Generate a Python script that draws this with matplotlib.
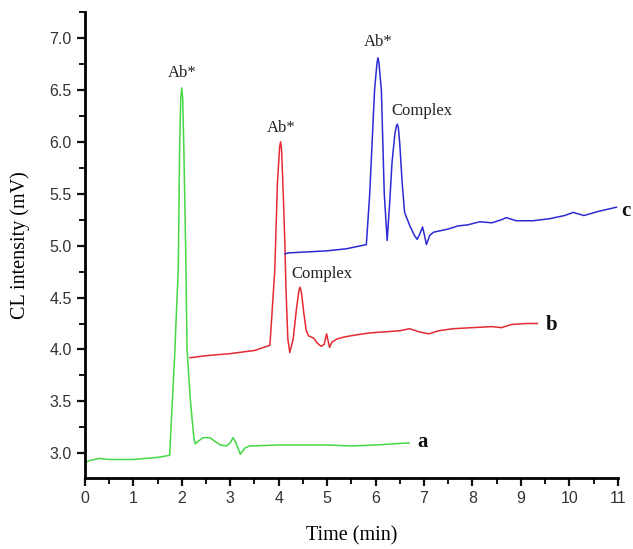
import matplotlib
matplotlib.use("Agg")
import matplotlib.pyplot as plt
from matplotlib.ticker import MultipleLocator, FormatStrFormatter

# curve a (green)
t_a = [0, 0.1, 0.3, 0.5, 1.0, 1.5, 1.75, 1.85, 1.93, 1.955, 1.98, 2.0, 2.02, 2.045,
       2.08, 2.11, 2.18, 2.25, 2.28, 2.35, 2.44, 2.58, 2.7, 2.8, 2.92, 3.0, 3.06,
       3.12, 3.21, 3.3, 3.4, 4.0, 5.0, 5.5, 6.0, 6.69]
y_a = [2.91, 2.93, 2.95, 2.94, 2.94, 2.96, 2.98, 3.9, 4.8, 5.9, 6.42, 6.52, 6.42, 5.9,
       5.0, 4.0, 3.5, 3.15, 3.09, 3.12, 3.15, 3.15, 3.11, 3.08, 3.07, 3.1, 3.15,
       3.1, 2.99, 3.05, 3.07, 3.08, 3.08, 3.07, 3.08, 3.10]

# curve b (red)
t_b = [2.17, 2.5, 3.0, 3.5, 3.82, 3.92, 3.975, 4.02, 4.04, 4.06, 4.095, 4.13, 4.15,
       4.19, 4.23, 4.3, 4.37, 4.42, 4.44, 4.47, 4.52, 4.57, 4.62, 4.72, 4.8, 4.88,
       4.94, 4.99, 5.05, 5.1, 5.2, 5.35, 5.6, 5.9, 6.2, 6.5, 6.7, 6.9, 7.1, 7.3,
       7.6, 8.0, 8.4, 8.6, 8.8, 9.1, 9.34]
y_b = [3.92, 3.94, 3.96, 3.99, 4.04, 4.76, 5.6, 5.95, 6.0, 5.93, 5.5, 5.0, 4.6,
       4.1, 3.97, 4.1, 4.4, 4.57, 4.6, 4.55, 4.35, 4.18, 4.13, 4.11, 4.06, 4.03,
       4.05, 4.15, 4.02, 4.07, 4.1, 4.12, 4.14, 4.16, 4.17, 4.18, 4.2, 4.17, 4.15,
       4.18, 4.2, 4.21, 4.22, 4.21, 4.24, 4.25, 4.25]

# curve c (blue)
t_c = [4.13, 4.2, 4.6, 5.0, 5.4, 5.81, 5.88, 5.94, 5.98, 6.03, 6.05, 6.07, 6.12,
       6.15, 6.18, 6.24, 6.29, 6.34, 6.4, 6.43, 6.45, 6.47, 6.5, 6.55, 6.6, 6.65,
       6.7, 6.8, 6.86, 6.92, 6.97, 7.01, 7.05, 7.12, 7.2, 7.3, 7.5, 7.7, 7.9, 8.15,
       8.4, 8.6, 8.7, 8.9, 9.25, 9.6, 9.9, 10.08, 10.3, 10.6, 10.97]
y_c = [4.92, 4.93, 4.94, 4.95, 4.97, 5.01, 5.5, 6.1, 6.5, 6.76, 6.81, 6.76, 6.5,
       6.0, 5.5, 5.05, 5.4, 5.8, 6.08, 6.15, 6.17, 6.14, 5.98, 5.6, 5.32, 5.26,
       5.2, 5.1, 5.06, 5.12, 5.18, 5.1, 5.01, 5.1, 5.13, 5.14, 5.16, 5.19, 5.2,
       5.23, 5.22, 5.25, 5.27, 5.24, 5.24, 5.26, 5.29, 5.32, 5.29, 5.33, 5.37]

peak_labels = ["Ab*", "Ab*", "Complex", "Ab*", "Complex"]
peak_x = [2.0, 4.05, 4.89, 6.05, 6.95]
peak_y = [6.66, 6.13, 4.73, 6.96, 6.30]

curve_names = ["a", "b", "c"]
curve_x = [6.98, 9.63, 11.17]
curve_y = [3.11, 4.24, 5.33]

fig = plt.figure(figsize=(6.33, 5.49), dpi=100)
ax = fig.add_axes([0.134, 0.129, 0.842, 0.849])

ax.plot(t_a, y_a, color='#44d844', lw=1.1)
ax.plot(t_b, y_b, color='#e42a32', lw=1.1)
ax.plot(t_c, y_c, color='#2b2bd4', lw=1.1)

serif = ['Liberation Serif', 'DejaVu Serif']
for lab, x, y in zip(peak_labels, peak_x, peak_y):
	ax.text(x, y, lab, ha='center', va='center', fontsize=12, family=serif, color='#222222')
for lab, x, y in zip(curve_names, curve_x, curve_y):
	ax.text(x, y, lab, ha='center', va='center', fontsize=15, fontweight='bold',
			family=serif, color='#111111', clip_on=False)

ax.set_xlim(0, 11)
ax.set_ylim(2.76, 7.25)
ax.xaxis.set_major_locator(MultipleLocator(1))
ax.xaxis.set_minor_locator(MultipleLocator(0.5))
ax.yaxis.set_major_locator(MultipleLocator(0.5))
ax.yaxis.set_minor_locator(MultipleLocator(0.25))
ax.yaxis.set_major_formatter(FormatStrFormatter('%.1f'))

for s in ['top', 'right']:
	ax.spines[s].set_visible(False)
for s in ['left', 'bottom']:
	ax.spines[s].set_linewidth(2.0)

ax.tick_params(which='major', direction='out', length=6, width=1.6, labelsize=11.5, colors='#111111')
ax.tick_params(which='minor', direction='out', length=4, width=1.3)
for lbl in ax.get_xticklabels() + ax.get_yticklabels():
	lbl.set_family(['Liberation Sans', 'DejaVu Sans'])
	lbl.set_color('#333333')

ax.set_xlabel('Time (min)', fontsize=14.5, family=serif, labelpad=14)
ax.set_ylabel('CL intensity (mV)', fontsize=14.5, family=serif, labelpad=14)

plt.savefig('out.png', dpi=100)
